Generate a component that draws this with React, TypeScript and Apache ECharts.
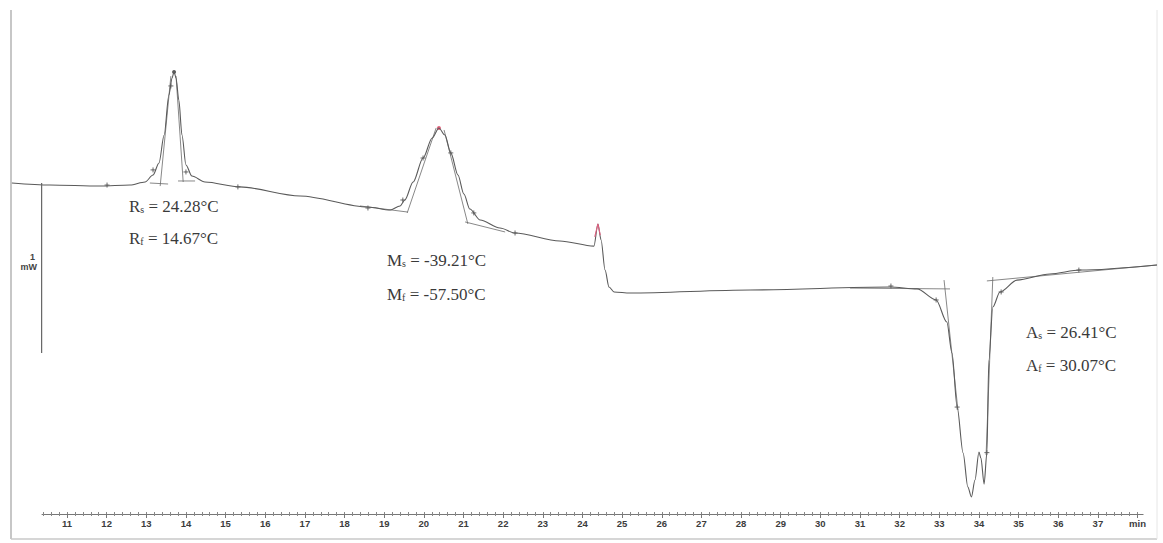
import { useEffect, useRef } from "react";
import * as echarts from "echarts";

// DSC trace: time (min) vs heat flow (mW, arbitrary offset)
const CURVE_TIME = [
  9.61, 10.57, 11.83, 12.59, 12.97, 13.17, 13.32, 13.45, 13.57, 13.65, 13.7, 13.75, 13.82, 13.9, 14.0,
  14.15, 14.48, 15.36, 16.88, 18.59, 19.15, 19.4, 19.52, 19.73, 19.98, 20.21, 20.38, 20.53, 20.68,
  20.86, 21.01, 21.16, 21.42, 21.92, 22.3, 23.43, 24.29, 24.39, 24.47, 24.57, 24.67, 24.8, 25.2,
  28.23, 31.76, 32.44, 32.92, 33.19, 33.32, 33.45, 33.6, 33.72, 33.81, 33.9, 34.0, 34.05, 34.13,
  34.2, 34.25, 34.35, 34.53, 34.96, 35.79, 36.55, 38.49,
];
const CURVE_HF = [
  1.947, 1.935, 1.929, 1.935, 1.953, 1.994, 2.065, 2.229, 2.465, 2.565, 2.6, 2.565, 2.435, 2.229, 2.053,
  1.988, 1.953, 1.924, 1.871, 1.806, 1.788, 1.812, 1.847, 1.953, 2.094, 2.212, 2.271, 2.229, 2.124,
  1.994, 1.882, 1.794, 1.729, 1.682, 1.653, 1.606, 1.576, 1.706, 1.612, 1.435, 1.335, 1.306, 1.3,
  1.318, 1.335, 1.324, 1.259, 1.129, 0.947, 0.629, 0.359, 0.159, 0.1, 0.2, 0.365, 0.329, 0.176,
  0.359, 0.906, 1.218, 1.306, 1.376, 1.412, 1.435, 1.465,
];

// highlighted (red) spike
const SPIKE_TIME = [24.31, 24.39, 24.45];
const SPIKE_HF = [1.63, 1.706, 1.64];

// small evaluation marks on the trace
const MARK_TIME = [12.01, 13.17, 13.62, 14.0, 15.31, 18.59, 19.47, 19.98, 20.68, 21.26, 22.3, 31.78, 32.92, 33.45, 34.2, 34.56, 36.52];
const MARK_HF = [1.935, 2.024, 2.518, 2.012, 1.924, 1.8, 1.847, 2.094, 2.124, 1.771, 1.653, 1.341, 1.259, 0.629, 0.361, 1.306, 1.435];

const PEAK_TOP_TIME = [13.7];
const PEAK_TOP_HF = [2.6];
const PEAK_RED_TIME = [20.38];
const PEAK_RED_HF = [2.271];

// tangent / baseline construction lines: [t1, hf1, t2, hf2]
const TANGENT_R_LEFT = [13.62, 2.576, 13.35, 1.929];
const TANGENT_R_RIGHT = [13.75, 2.576, 13.93, 1.953];
const BASE_R_LEFT = [13.09, 1.947, 13.55, 1.941];
const BASE_R_RIGHT = [13.8, 1.959, 14.23, 1.959];
const BASE_M_LEFT = [18.39, 1.812, 19.6, 1.776];
const TANGENT_M_LEFT = [19.58, 1.771, 20.31, 2.271];
const TANGENT_M_RIGHT = [20.51, 2.259, 21.11, 1.706];
const BASE_M_RIGHT = [21.04, 1.718, 22.05, 1.659];
const BASE_A_LEFT = [30.75, 1.329, 33.27, 1.324];
const TANGENT_A_LEFT = [33.12, 1.376, 33.47, 0.612];
const TANGENT_A_RIGHT = [34.35, 1.394, 34.18, 0.347];
const BASE_A_RIGHT = [34.2, 1.371, 38.49, 1.465];

// 1 mW scale bar
const SCALE_TIME = [10.36, 10.36];
const SCALE_HF = [1.947, 0.947];

// x-axis tick labels (38 is shown as the unit "min")
const TICK_LABELS = [11, 12, 13, 14, 15, 16, 17, 18, 19, 20, 21, 22, 23, 24, 25, 26, 27, 28, 29, 30, 31, 32, 33, 34, 35, 36, 37, 38];

const ANNOTATIONS = [
  { sym: "R", sub: "s", val: " = 24.28°C", x: 129, y: 206 },
  { sym: "R", sub: "f", val: " = 14.67°C", x: 129, y: 238 },
  { sym: "M", sub: "s", val: " = -39.21°C", x: 387, y: 260 },
  { sym: "M", sub: "f", val: " = -57.50°C", x: 387, y: 294 },
  { sym: "A", sub: "s", val: " = 26.41°C", x: 1026, y: 332 },
  { sym: "A", sub: "f", val: " = 30.07°C", x: 1026, y: 365 },
];

const PPM = 39.65; // px per minute
const X11 = 67; // px of t = 11 min
const AXIS_Y = 514;
const PPMW = 170; // px per mW
const CURVE_X_MIN = 9.6;
const CURVE_X_MAX = 38.52;
const AXIS_X_MIN = 10.37;
const AXIS_X_MAX = 38.14;
const HF_MAX = 2.94;

const pairs = (xs: number[], ys: number[]) => xs.map((x, i) => [x, ys[i]]);
const seg = (s: number[]) => [
  [s[0], s[1]],
  [s[2], s[3]],
];

export default function App() {
  const ref = useRef<HTMLDivElement>(null);
  useEffect(() => {
    document.body.style.margin = "0";
    const chart = echarts.init(ref.current!, null, { renderer: "svg" });

    const minor: number[] = [];
    for (let i = 0; i <= 138; i++) minor.push(Math.round((10.4 + i * 0.2) * 10) / 10);

    const lineColor = "#5a5a5a";
    const tangentStyle = { color: "#6a6a6a", width: 0.8 };
    const tangents = [
      TANGENT_R_LEFT, TANGENT_R_RIGHT, BASE_R_LEFT, BASE_R_RIGHT,
      BASE_M_LEFT, TANGENT_M_LEFT, TANGENT_M_RIGHT, BASE_M_RIGHT,
      BASE_A_LEFT, TANGENT_A_LEFT, TANGENT_A_RIGHT, BASE_A_RIGHT,
    ].map((s) => ({
      type: "line",
      xAxisIndex: 0,
      yAxisIndex: 0,
      data: seg(s),
      symbol: "none",
      lineStyle: tangentStyle,
      silent: true,
    }));

    const serif = "'Liberation Serif', 'Times New Roman', serif";
    const sans = "'Liberation Sans', Arial, sans-serif";
    const texts = ANNOTATIONS.map((a) => ({
      type: "text",
      x: a.x,
      y: a.y,
      style: {
        text: `{m|${a.sym}}{s|${a.sub}}{m|${a.val}}`,
        verticalAlign: "middle",
        rich: {
          m: { fontFamily: serif, fontSize: 17, fill: "#3a3a3a" },
          s: { fontFamily: serif, fontSize: 10, fill: "#3a3a3a", padding: [7, 0, 0, 0] },
        },
      },
    }));

    const grid0Left = X11 + (CURVE_X_MIN - 11) * PPM;
    const grid1Left = X11 + (AXIS_X_MIN - 11) * PPM;
    const top = AXIS_Y - HF_MAX * PPMW;

    chart.setOption({
      animation: false,
      backgroundColor: "#fff",
      grid: [
        { left: grid0Left, width: (CURVE_X_MAX - CURVE_X_MIN) * PPM, top, height: HF_MAX * PPMW },
        { left: grid1Left, width: (AXIS_X_MAX - AXIS_X_MIN) * PPM, top, height: HF_MAX * PPMW },
      ],
      xAxis: [
        { type: "value", gridIndex: 0, min: CURVE_X_MIN, max: CURVE_X_MAX, show: false },
        {
          type: "value",
          gridIndex: 1,
          min: AXIS_X_MIN,
          max: AXIS_X_MAX,
          position: "bottom",
          axisLine: { show: true, lineStyle: { color: "#777", width: 1 } },
          axisTick: { show: true, customValues: minor, length: 2, lineStyle: { color: "#888", width: 1 } },
          axisLabel: {
            show: true,
            customValues: TICK_LABELS,
            formatter: (v: number) => (Math.round(v) === 38 ? "min" : String(Math.round(v))),
            fontSize: 9.5,
            fontWeight: "bold",
            fontFamily: sans,
            color: "#3c3c3c",
            margin: 4,
          },
          splitLine: { show: false },
        },
        {
          type: "value",
          gridIndex: 1,
          min: AXIS_X_MIN,
          max: AXIS_X_MAX,
          position: "bottom",
          axisLine: { show: false },
          axisTick: { show: true, inside: true, customValues: minor, length: 2, lineStyle: { color: "#888", width: 1 } },
          axisLabel: { show: false },
          splitLine: { show: false },
        },
        {
          type: "value",
          gridIndex: 1,
          min: AXIS_X_MIN,
          max: AXIS_X_MAX,
          position: "bottom",
          axisLine: { show: false },
          axisTick: { show: true, customValues: TICK_LABELS, length: 4, lineStyle: { color: "#777", width: 1 } },
          axisLabel: { show: false },
          splitLine: { show: false },
        },
      ],
      yAxis: [
        { type: "value", gridIndex: 0, min: 0, max: HF_MAX, show: false },
        { type: "value", gridIndex: 1, min: 0, max: HF_MAX, show: false },
      ],
      series: [
        ...tangents,
        {
          type: "line",
          xAxisIndex: 0,
          yAxisIndex: 0,
          data: pairs(CURVE_TIME, CURVE_HF),
          symbol: "none",
          smooth: 0.3,
          smoothMonotone: "x",
          lineStyle: { color: lineColor, width: 1.1 },
          silent: true,
        },
        {
          type: "line",
          xAxisIndex: 0,
          yAxisIndex: 0,
          data: pairs(SPIKE_TIME, SPIKE_HF),
          symbol: "none",
          lineStyle: { color: "#e06080", width: 1.1 },
          silent: true,
        },
        {
          type: "line",
          xAxisIndex: 0,
          yAxisIndex: 0,
          data: pairs(SCALE_TIME, SCALE_HF),
          symbol: "none",
          lineStyle: { color: "#666", width: 1.2 },
          silent: true,
        },
        {
          type: "scatter",
          xAxisIndex: 0,
          yAxisIndex: 0,
          data: pairs(MARK_TIME, MARK_HF),
          symbol: "path://M5,0L5,10M0,5L10,5",
          symbolSize: 5,
          itemStyle: { color: "transparent", borderColor: "#444", borderWidth: 1 },
          silent: true,
        },
        {
          type: "scatter",
          xAxisIndex: 0,
          yAxisIndex: 0,
          data: pairs(PEAK_TOP_TIME, PEAK_TOP_HF),
          symbol: "circle",
          symbolSize: 4,
          itemStyle: { color: "#333" },
          silent: true,
        },
        {
          type: "scatter",
          xAxisIndex: 0,
          yAxisIndex: 0,
          data: pairs(PEAK_RED_TIME, PEAK_RED_HF),
          symbol: "circle",
          symbolSize: 4,
          itemStyle: { color: "#e04060" },
          silent: true,
        },
      ],
      graphic: [
        { type: "line", shape: { x1: 11, y1: 10, x2: 11, y2: 539 }, style: { stroke: "#b4b4b4", lineWidth: 1.5 }, silent: true },
        { type: "line", shape: { x1: 11, y1: 539, x2: 1157, y2: 539 }, style: { stroke: "#c8c8c8", lineWidth: 1.5 }, silent: true },
        { type: "line", shape: { x1: 1157, y1: 10, x2: 1157, y2: 539 }, style: { stroke: "#e6e6e6", lineWidth: 1 }, silent: true },
        {
          type: "text",
          x: 35,
          y: 257,
          style: { text: "1", align: "right", verticalAlign: "middle", fontSize: 9, fontWeight: "bold", fontFamily: sans, fill: "#444" },
        },
        {
          type: "text",
          x: 37,
          y: 267,
          style: { text: "mW", align: "right", verticalAlign: "middle", fontSize: 9, fontWeight: "bold", fontFamily: sans, fill: "#444" },
        },
        ...texts,
      ],
    });
    return () => chart.dispose();
  }, []);
  return <div ref={ref} style={{ width: 1163, height: 543, background: "#fff" }} />;
}
